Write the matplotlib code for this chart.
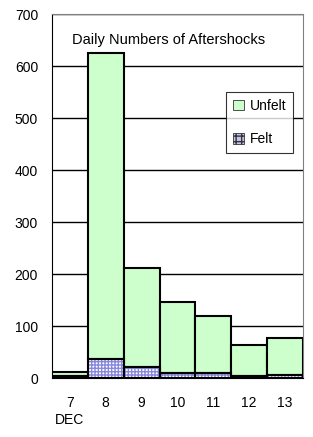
import matplotlib
matplotlib.use("Agg")
import matplotlib.pyplot as plt
from matplotlib.patches import Patch

plt.rcParams['font.family'] = ['Liberation Sans', 'DejaVu Sans']

# daily aftershock counts, Dec 7-13
days = ['7\nDEC', '8', '9', '10', '11', '12', '13']
total = [11, 625, 211, 147, 120, 64, 77]
felt = [4, 37, 22, 9, 9, 3, 5]
unfelt = [t - f for t, f in zip(total, felt)]

fig = plt.figure(figsize=(3.13, 4.37), dpi=100)
ax = fig.add_axes([0.166, 0.135, 0.802, 0.832])

x = range(len(days))
green = '#ccffcc'

# felt: dotted blue pattern, then black outline on top
ax.bar(x, felt, width=1.0, color='white', hatch='+++++', edgecolor='#8888dd', linewidth=0, zorder=3)
ax.bar(x, felt, width=1.0, color='none', edgecolor='black', linewidth=1.5, zorder=4)
ax.bar(x, unfelt, width=1.0, bottom=felt, color=green, edgecolor='black', linewidth=1.5, zorder=3)

ax.set_xlim(-0.5, 6.5)
ax.set_ylim(0, 700)
ax.set_yticks(range(0, 701, 100))
ax.set_xticks(list(x))
ax.set_xticklabels(days, fontsize=10, linespacing=1.25, va='top')
ax.tick_params(axis='x', length=0, pad=13)
ax.tick_params(axis='y', length=0, pad=10, labelsize=10)
for lab in ax.get_xticklabels():
    lab.set_horizontalalignment('center')

ax.yaxis.grid(True, color='black', linewidth=1.0, zorder=0)
ax.set_axisbelow(True)

ax.spines['left'].set_color('black')
ax.spines['bottom'].set_color('black')
ax.spines['top'].set_color('#808080')
ax.spines['right'].set_color('#808080')

ax.text(0.078, 0.93, 'Daily Numbers of Aftershocks', transform=ax.transAxes,
        fontsize=10.5, ha='left', va='center')

handles = [Patch(facecolor=green, edgecolor='#333333', linewidth=0.6),
           Patch(facecolor='#c4c4ee', edgecolor='#333333', linewidth=0.6, hatch='+++')]
leg = ax.legend(handles, ['Unfelt', 'Felt'], loc='upper left',
                bbox_to_anchor=(0.693, 0.787), borderaxespad=0, fontsize=10,
                frameon=True, fancybox=False, handlelength=0.8, handleheight=0.8,
                handletextpad=0.4, borderpad=0.5, labelspacing=1.4)
leg.get_frame().set_edgecolor('black')
leg.get_frame().set_linewidth(0.8)
leg.set_zorder(5)

fig.savefig('out.png', dpi=100)
